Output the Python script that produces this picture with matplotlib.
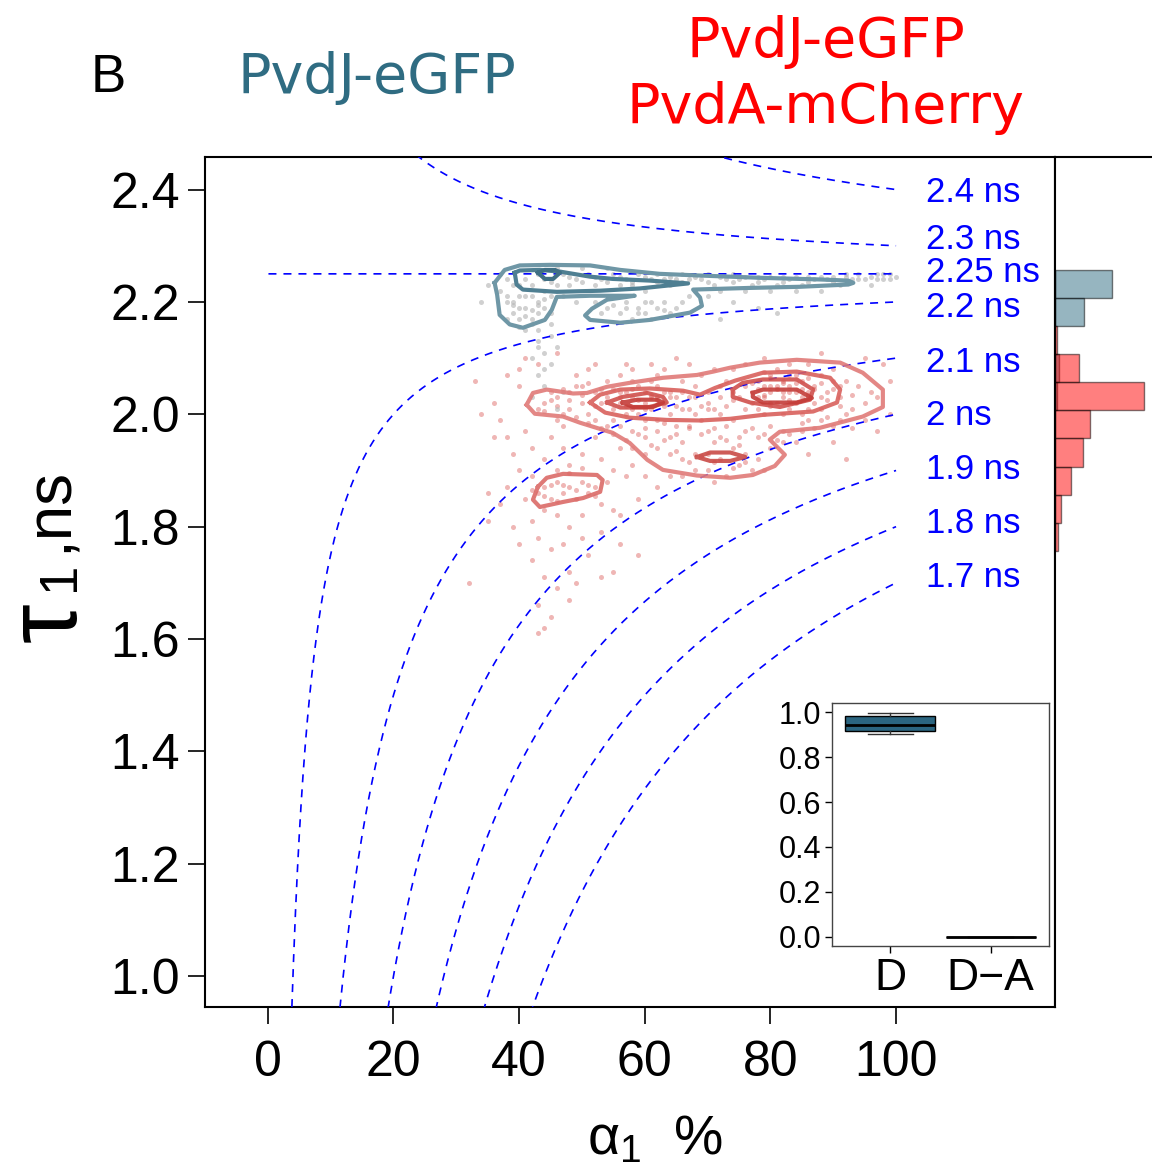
import numpy as np
import matplotlib
matplotlib.use("Agg")
import matplotlib.pyplot as plt

plt.rcParams['font.family'] = ['Liberation Sans', 'DejaVu Sans']
plt.rcParams['mathtext.fontset'] = 'custom'
plt.rcParams['mathtext.rm'] = 'Liberation Sans'
plt.rcParams['mathtext.it'] = 'Liberation Sans:italic'

# iso-lifetime guide levels (ns), tau2 of the model and label positions
tau2 = 2.25
levels = [2.4, 2.3, 2.25, 2.2, 2.1, 2.0, 1.9, 1.8, 1.7]
level_labels = ['2.4 ns', '2.3 ns', '2.25 ns', '2.2 ns', '2.1 ns', '2 ns', '1.9 ns', '1.8 ns', '1.7 ns']
label_y = [2.394, 2.312, 2.252, 2.190, 2.093, 1.997, 1.902, 1.805, 1.710]

# donor only (grey) points: alpha1 %, tau1 ns
grey_x = [37, 38, 39, 40, 41, 42, 43, 44, 39, 41, 42, 43, 40, 38, 44, 45, 42, 41, 43, 40,
          39, 44, 46, 45, 37, 38, 42, 43, 41, 40,
          47, 49, 51, 53, 55, 57, 59, 61, 63, 65, 67, 69, 71, 73, 75, 77, 79, 81, 83, 85,
          87, 89, 91, 93, 95, 97, 99, 96, 98, 94, 48, 52, 56, 60, 64, 68, 72, 76, 80, 84,
          88, 50, 54, 46, 58, 62, 66, 70, 74, 78, 82, 86, 90, 92, 97, 99,
          52, 54, 56, 58, 60, 62, 64, 66, 57, 59, 61, 63, 55, 65, 67, 53, 60, 70, 74, 78,
          72, 81, 47, 49,
          43, 44, 45, 43, 44, 46, 42, 45, 44, 47, 42, 46, 35, 34, 45, 43,
          48, 50, 52, 54, 56, 58, 60, 62, 64, 66, 68, 70, 72, 74, 76, 78, 80, 82, 84, 86,
          88, 90, 92, 94, 96, 98, 100, 39, 41, 43, 40, 42, 44, 38, 45, 57, 59, 61, 63, 55]
grey_y = [2.22, 2.20, 2.18, 2.21, 2.19, 2.17, 2.20, 2.22, 2.23, 2.24, 2.21, 2.18, 2.17, 2.24, 2.19, 2.21, 2.16, 2.15, 2.15, 2.19,
          2.20, 2.24, 2.23, 2.18, 2.25, 2.17, 2.23, 2.25, 2.21, 2.23,
          2.25, 2.24, 2.25, 2.24, 2.25, 2.24, 2.25, 2.24, 2.24, 2.24, 2.24, 2.24, 2.23, 2.24, 2.24, 2.23, 2.24, 2.23, 2.24, 2.23,
          2.24, 2.24, 2.23, 2.24, 2.24, 2.25, 2.24, 2.23, 2.24, 2.25, 2.23, 2.23, 2.23, 2.22, 2.23, 2.22, 2.22, 2.22, 2.22, 2.22,
          2.22, 2.26, 2.26, 2.26, 2.23, 2.25, 2.25, 2.25, 2.25, 2.245, 2.245, 2.245, 2.245, 2.25, 2.24, 2.25,
          2.20, 2.19, 2.18, 2.17, 2.18, 2.19, 2.18, 2.20, 2.20, 2.19, 2.17, 2.20, 2.21, 2.19, 2.21, 2.18, 2.20, 2.21, 2.20, 2.19,
          2.17, 2.18, 2.21, 2.20,
          2.13, 2.11, 2.09, 2.07, 2.05, 2.12, 2.10, 2.14, 2.08, 2.04, 2.03, 2.01, 2.23, 2.20, 2.16, 2.12,
          2.245, 2.235, 2.245, 2.235, 2.245, 2.235, 2.245, 2.235, 2.245, 2.235, 2.245, 2.235, 2.245, 2.235, 2.245, 2.235,
          2.245, 2.235, 2.245, 2.235, 2.245, 2.235, 2.245, 2.24, 2.245, 2.25, 2.245, 2.195, 2.175, 2.195, 2.155, 2.185,
          2.205, 2.21, 2.235, 2.19, 2.18, 2.20, 2.185, 2.195]

# donor-acceptor (red) points
red_x = [56, 58, 60, 61, 62, 59, 57, 63, 64, 55, 60, 58, 62, 65, 54, 59, 61, 63, 57, 66,
         60, 56, 64, 62, 58, 53, 67, 61, 55, 65,
         78, 80, 82, 84, 81, 79, 83, 85, 77, 80, 82, 86, 78, 84, 81, 79, 83, 87, 75, 88,
         80, 85, 76, 82, 86, 79, 84, 77, 89, 81, 74, 87, 83, 80, 78, 85, 90, 76, 82, 88,
         44, 46, 48, 50, 52, 45, 47, 49, 51, 43, 46, 48, 52, 50, 54, 56, 58, 62, 66, 68,
         70, 72, 69, 71, 73, 74, 76, 79, 83, 86, 90, 92, 94, 96, 95, 93, 97, 91, 92, 95,
         90, 88, 85, 82, 80, 78, 76, 74, 72, 70, 68, 70, 72, 74, 76, 78, 80, 82, 84, 79,
         77, 75, 72, 70, 68, 66, 64, 62, 60, 58, 56, 54, 66, 64, 62, 68, 70, 73, 71, 66,
         60, 58, 67, 69, 71, 73, 75, 86, 88, 91,
         44, 46, 48, 50, 52, 45, 47, 49, 43, 51, 46, 48, 44, 42, 41, 45, 47, 50, 53, 55,
         56, 52, 54, 57, 44, 46, 48, 42, 41, 43, 45, 47, 50, 53, 55, 40, 39, 38, 42, 58,
         41, 43, 46, 38, 40, 36, 37, 35, 37, 39, 42, 44, 46, 48, 51, 53, 56, 59, 62, 64,
         45, 43, 50, 48, 60, 86, 90, 92, 97, 99, 99, 98, 95, 61, 65, 88, 52, 40, 49, 55,
         33, 34, 36, 35, 32, 43, 44, 53, 59, 56, 47, 49, 51, 57, 63, 67, 40, 38,
         57, 59, 61, 63, 60, 58, 62, 64, 56, 55, 79, 81, 83, 85, 80, 82, 84, 78, 86, 87,
         77, 80, 83, 79, 86, 88, 90, 89, 91, 93, 66, 68, 70, 72, 71, 69, 73, 74, 67, 65,
         50, 48, 46, 52, 53, 51, 47, 45, 44, 49, 60, 63, 65, 67, 69, 71, 73, 75, 77, 79,
         81, 83, 85, 87, 89, 91, 93, 61, 63, 57, 55, 53, 51, 59, 65, 67, 69, 71, 74, 76,
         45, 47, 49, 51, 48, 50, 46, 44, 42, 52]
red_y = [2.02, 2.03, 2.02, 2.01, 2.03, 2.00, 2.04, 2.02, 2.00, 2.01, 2.04, 2.01, 2.05, 2.03, 2.03, 2.05, 2.03, 2.04, 2.00, 2.01,
         1.99, 2.04, 2.04, 1.99, 2.06, 2.02, 2.03, 2.06, 1.99, 1.98,
         2.03, 2.04, 2.03, 2.04, 2.02, 2.05, 2.05, 2.03, 2.04, 2.02, 2.06, 2.04, 2.01, 2.02, 2.05, 2.03, 2.01, 2.05, 2.03, 2.03,
         2.07, 2.06, 2.05, 2.00, 2.01, 2.00, 2.07, 2.02, 2.04, 2.08, 2.04, 2.02, 2.04, 2.05, 2.06, 2.00, 2.06, 2.01, 2.04, 2.07,
         2.02, 2.03, 2.01, 2.02, 2.04, 2.04, 2.00, 2.05, 2.00, 2.01, 1.99, 2.04, 1.99, 2.05, 2.06, 2.07, 2.08, 2.07, 2.06, 2.05,
         2.04, 2.05, 2.07, 2.08, 2.06, 2.08, 2.09, 2.10, 2.09, 2.09, 2.08, 2.06, 2.05, 2.04, 2.02, 2.01, 2.03, 2.03, 2.00, 1.99,
         1.98, 1.99, 1.97, 1.97, 1.98, 1.96, 1.97, 1.99, 2.00, 2.01, 2.00, 1.97, 1.96, 1.94, 1.93, 1.92, 1.94, 1.95, 1.95, 1.90,
         1.90, 1.91, 1.92, 1.93, 1.93, 1.95, 1.96, 1.97, 1.96, 1.97, 1.98, 1.98, 1.92, 1.93, 1.94, 1.90, 1.90, 1.89, 1.88, 1.89,
         1.93, 1.94, 1.98, 1.99, 1.95, 1.98, 1.96, 1.99, 2.01, 2.05,
         1.87, 1.88, 1.87, 1.88, 1.87, 1.85, 1.86, 1.85, 1.86, 1.86, 1.90, 1.91, 1.92, 1.94, 1.97, 1.96, 1.94, 1.93, 1.92, 1.90,
         1.94, 1.96, 1.88, 1.89, 1.83, 1.82, 1.80, 1.81, 1.85, 1.78, 1.76, 1.77, 1.82, 1.84, 1.83, 1.90, 1.93, 1.96, 1.89, 1.91,
         2.10, 2.09, 2.11, 2.07, 2.05, 2.02, 1.99, 1.86, 1.84, 1.80, 1.74, 1.71, 1.69, 1.72, 1.75, 1.79, 1.82, 1.85, 1.87, 1.89,
         1.64, 1.66, 1.78, 1.67, 1.89, 1.93, 1.95, 1.92, 1.97, 2.00, 2.06, 2.09, 2.10, 2.09, 2.10, 2.11, 2.09, 1.77, 1.70, 1.72,
         2.06, 2.00, 1.96, 1.81, 1.70, 1.61, 1.62, 1.71, 1.75, 1.77, 1.98, 2.07, 2.08, 2.09, 2.08, 2.09, 2.08, 1.87,
         2.015, 2.025, 2.035, 2.015, 2.01, 2.045, 2.025, 2.03, 2.03, 2.045, 2.035, 2.045, 2.025, 2.045, 2.015, 2.055, 2.055, 2.045, 2.035, 2.045,
         2.055, 2.065, 2.07, 2.075, 2.065, 2.055, 2.045, 2.025, 2.015, 2.035, 2.04, 2.03, 2.02, 2.03, 2.01, 2.015, 2.015, 2.025, 2.01, 2.015,
         2.035, 2.025, 2.015, 2.015, 2.045, 2.055, 2.045, 2.025, 2.005, 1.995, 1.975, 1.985, 1.965, 1.975, 1.965, 1.975, 1.955, 1.945, 1.975, 1.965,
         1.955, 1.965, 1.985, 1.975, 1.995, 1.99, 1.975, 1.945, 1.955, 1.955, 1.965, 1.975, 1.985, 1.965, 1.935, 1.915, 1.925, 1.915, 1.905, 1.915,
         1.875, 1.875, 1.865, 1.875, 1.895, 1.905, 1.845, 1.855, 1.865, 1.855]

# density contours (alpha1 %, tau1 ns)
blue_outer_x = [36.1, 37.7, 40.1, 44.9, 51.3, 56.1, 62.4, 68.8, 78.3, 87.9, 92.4, 93.2, 92.4, 84.7, 76.8, 67.7, 68.8,
                69.1, 67.2, 60.8, 56.1, 51.3, 50.5, 51.6, 54.0, 58.4, 51.3, 46.0, 45.2, 44.1, 40.6, 38.5, 36.9, 36.5, 36.1]
blue_outer_y = [2.234, 2.257, 2.265, 2.266, 2.265, 2.257, 2.250, 2.247, 2.243, 2.240, 2.238, 2.234, 2.231, 2.227, 2.225,
                2.222, 2.208, 2.193, 2.181, 2.168, 2.163, 2.168, 2.176, 2.188, 2.204, 2.211, 2.211, 2.209, 2.186, 2.168,
                2.154, 2.160, 2.177, 2.213, 2.234]
blue_inner_x = [39.3, 39.6, 40.6, 46.0, 52.9, 59.2, 66.9, 60.8, 54.9, 51.3, 46.5, 43.3, 40.1, 39.3]
blue_inner_y = [2.252, 2.231, 2.222, 2.218, 2.220, 2.224, 2.233, 2.238, 2.241, 2.245, 2.254, 2.257, 2.256, 2.252]
blue_core_x = [43.0, 44.1, 45.7, 46.5, 45.4, 44.1, 43.0]
blue_core_y = [2.252, 2.257, 2.257, 2.252, 2.241, 2.241, 2.252]

red_outer_x = [41.2, 42.2, 44.4, 48.6, 50.8, 54.0, 57.6, 62.9, 68.3, 70.9, 73.6, 78.3, 84.2, 91.1, 94.7, 97.9, 97.9,
               94.7, 87.9, 81.5, 79.9, 82.3, 80.7, 77.2, 73.6, 68.3, 62.9, 60.4, 57.6, 54.9, 49.7, 47.0, 42.5, 41.2]
red_outer_y = [2.017, 2.038, 2.044, 2.037, 2.038, 2.049, 2.056, 2.065, 2.070, 2.076, 2.083, 2.092, 2.097, 2.092, 2.074,
               2.044, 2.013, 1.996, 1.976, 1.969, 1.955, 1.928, 1.908, 1.892, 1.887, 1.891, 1.901, 1.919, 1.949, 1.967,
               1.985, 1.996, 2.001, 2.017]
red_mid_x = [51.3, 52.9, 56.1, 60.8, 66.1, 68.8, 71.2, 74.4, 78.8, 84.2, 89.5, 91.1, 90.6, 86.8, 78.8, 73.6, 68.8,
             63.5, 57.6, 53.7, 51.3]
red_mid_y = [2.021, 2.035, 2.044, 2.046, 2.042, 2.035, 2.047, 2.060, 2.074, 2.076, 2.065, 2.044, 2.021, 2.005, 1.999,
             1.992, 1.989, 1.990, 1.994, 2.003, 2.021]
red_left_x = [54.0, 56.5, 60.4, 62.9, 63.5, 60.4, 56.1, 54.0]
red_left_y = [2.021, 2.031, 2.038, 2.031, 2.021, 2.012, 2.012, 2.021]
red_right_x = [74.0, 75.6, 78.8, 84.2, 86.8, 86.3, 81.5, 76.8, 74.0, 74.0]
red_right_y = [2.044, 2.056, 2.062, 2.062, 2.044, 2.026, 2.013, 2.021, 2.031, 2.044]
red_lcore_x = [56.5, 58.8, 61.9, 62.9, 61.3, 58.1, 56.5]
red_lcore_y = [2.021, 2.026, 2.026, 2.021, 2.013, 2.013, 2.021]
red_rcore_x = [77.2, 78.8, 84.2, 86.6, 84.2, 78.8, 77.2, 77.2]
red_rcore_y = [2.038, 2.044, 2.044, 2.029, 2.021, 2.021, 2.031, 2.038]
red_low_x = [43.0, 44.4, 47.0, 52.4, 53.3, 52.9, 50.2, 47.0, 43.3, 42.2, 43.0]
red_low_y = [1.871, 1.887, 1.894, 1.892, 1.883, 1.862, 1.851, 1.844, 1.835, 1.848, 1.871]
red_small_x = [68.3, 70.4, 73.6, 76.0, 73.6, 70.4, 68.3]
red_small_y = [1.924, 1.932, 1.932, 1.924, 1.917, 1.917, 1.924]

# marginal histogram of tau1 (bin lower edges, bar lengths)
bin_lo = [1.757, 1.807, 1.857, 1.907, 1.957, 2.007, 2.057, 2.107, 2.157, 2.207]
hist_red = [2.7, 6.3, 15.7, 28.3, 35.3, 88.7, 24.3, 2.3, 0, 0]
hist_blue = [0, 0, 0, 0, 0, 2, 4, 0, 29.3, 56.7]

# inset box plot
box_names = ['D', 'D\u2212A']
box_stats = [dict(med=0.946, q1=0.917, q3=0.982, whislo=0.905, whishi=0.997, fliers=[]),
             dict(med=0.0, q1=0.0, q3=0.0, whislo=0.0, whishi=0.0, fliers=[])]

W, H = 1152, 1171


def frac(l, t, r, b):
    return [l / W, 1 - b / H, (r - l) / W, (b - t) / H]


fig = plt.figure(figsize=(W / 100, H / 100), dpi=100)
ax = fig.add_axes(frac(205, 157, 1055, 1007))

# dashed iso-lifetime curves: tau_m = a*tau1 + (1-a)*tau2
a = np.linspace(0.001, 1.0, 2000)
for lv in levels:
    ax.plot(a * 100, tau2 + (lv - tau2) / a, color='blue', lw=1.2, ls=(0, (4.8, 4.2)), zorder=4)
for txt, yy in zip(level_labels, label_y):
    ax.text(104.8, yy, txt, color='blue', fontsize=25, ha='left', va='center')

ax.scatter(red_x, red_y, s=13, color='#d9534f', alpha=0.42, linewidths=0, zorder=2)
ax.scatter(grey_x, grey_y, s=13, color='#b8b8b8', alpha=0.65, linewidths=0, zorder=2)

lw_c = 3.0
ax.plot(blue_outer_x, blue_outer_y, color='#6f97a6', lw=lw_c, zorder=5)
ax.plot(blue_inner_x, blue_inner_y, color='#4f7f92', lw=lw_c, zorder=5)
ax.plot(blue_core_x, blue_core_y, color='#3f6f84', lw=lw_c, zorder=5)
ax.plot(red_outer_x, red_outer_y, color='#e07a78', lw=lw_c, alpha=0.9, zorder=5)
ax.plot(red_mid_x, red_mid_y, color='#d9605c', lw=lw_c, alpha=0.9, zorder=5)
ax.plot(red_left_x, red_left_y, color='#d0504c', lw=lw_c, alpha=0.9, zorder=5)
ax.plot(red_right_x, red_right_y, color='#d0504c', lw=lw_c, alpha=0.9, zorder=5)
ax.plot(red_lcore_x, red_lcore_y, color='#c43c38', lw=lw_c, alpha=0.9, zorder=5)
ax.plot(red_rcore_x, red_rcore_y, color='#c43c38', lw=lw_c, alpha=0.9, zorder=5)
ax.plot(red_low_x, red_low_y, color='#db6a67', lw=lw_c, alpha=0.9, zorder=5)
ax.plot(red_small_x, red_small_y, color='#c94a46', lw=lw_c, alpha=0.9, zorder=5)

ax.set_xlim(-10, 125.3)
ax.set_ylim(0.945, 2.458)
ax.set_xticks([0, 20, 40, 60, 80, 100])
ax.set_yticks([1.0, 1.2, 1.4, 1.6, 1.8, 2.0, 2.2, 2.4])
ax.set_yticklabels(['1.0', '1.2', '1.4', '1.6', '1.8', '2.0', '2.2', '2.4'])
ax.tick_params(axis='both', labelsize=36, length=12, width=1.2, direction='out')
ax.tick_params(axis='y', pad=6)
ax.tick_params(axis='x', pad=12)
for s in ax.spines.values():
    s.set_linewidth(1.5)

# axis titles
fig.text(50 / W, 1 - 622 / H, '\u03c4', fontsize=72, rotation=90, ha='center', va='center')
fig.text(60 / W, 1 - 576 / H, '1', fontsize=38, rotation=90, ha='center', va='center')
fig.text(50 / W, 1 - 510 / H, ',ns', fontsize=46, rotation=90, ha='center', va='center')
fig.text(655 / W, 1 - 1140 / H, '\u03b1$_\\mathregular{1}$  %', fontsize=40, ha='center', va='center')

# header texts
fig.text(108 / W, 1 - 78 / H, 'B', fontsize=38, ha='center', va='center')
fig.text(377 / W, 1 - 78 / H, 'PvdJ-eGFP', fontsize=40, color='#2f6c82', family='DejaVu Sans',
         ha='center', va='center')
fig.text(826 / W, 1 - 75 / H, 'PvdJ-eGFP\nPvdA-mCherry', fontsize=40, color='red', family='DejaVu Sans',
         ha='center', va='center', linespacing=1.3)

# marginal histogram
hx = fig.add_axes(frac(1055, 157, 1160, 1007))
hx.barh(bin_lo, hist_blue, height=0.05, align='edge', color='#2f6c82', alpha=0.5, edgecolor='black', lw=1)
hx.barh(bin_lo, hist_red, height=0.05, align='edge', color='red', alpha=0.5, edgecolor='black', lw=1)
hx.set_ylim(ax.get_ylim())
hx.set_xlim(0, 105)
hx.set_xticks([])
hx.set_yticks([])
hx.spines['right'].set_visible(False)
hx.spines['bottom'].set_visible(False)
hx.spines['left'].set_linewidth(1.5)
hx.spines['top'].set_linewidth(1.5)

# inset box plot
ix = fig.add_axes(frac(832, 703, 1049, 946))
ix.bxp(box_stats, positions=[1, 2], widths=0.9, patch_artist=True, showfliers=False,
       capwidths=0.45,
       boxprops=dict(facecolor='#2b6580', edgecolor='black', lw=1),
       medianprops=dict(color='black', lw=2),
       whiskerprops=dict(color='#333333', lw=1),
       capprops=dict(color='#333333', lw=1))
ix.set_xlim(0.42, 2.58)
ix.set_ylim(-0.042, 1.042)
ix.set_yticks([0.0, 0.2, 0.4, 0.6, 0.8, 1.0])
ix.set_yticklabels(['0.0', '0.2', '0.4', '0.6', '0.8', '1.0'])
ix.set_xticks([1, 2])
ix.set_xticklabels(box_names)
ix.tick_params(axis='y', labelsize=22, length=5, width=1, pad=3)
ix.tick_params(axis='x', labelsize=32, length=5, width=1, pad=4)
for s in ix.spines.values():
    s.set_linewidth(1)
    s.set_color('#444444')

fig.savefig('out.png', dpi=100)
